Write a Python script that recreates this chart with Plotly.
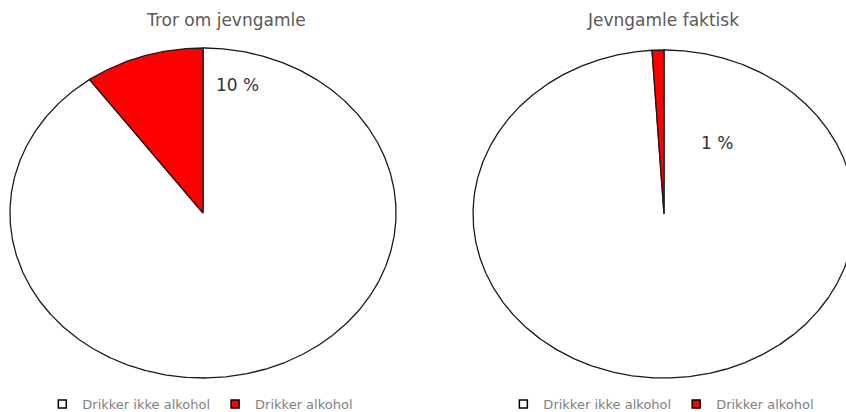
import numpy as np
import plotly.graph_objects as go

# ---- data ----
categories = ["Drikker ikke alkohol", "Drikker alkohol"]
titles = ["Tror om jevngamle", "Jevngamle faktisk"]
values_tror = [90, 10]
values_faktisk = [99, 1]
label_texts = ["10 %", "1 %"]

colors = ["#FFFFFF", "#FF0000"]
W, H = 846, 412
FONT = "'DejaVu Sans', sans-serif"

fig = go.Figure()


def wedges(values, xaxis, yaxis, legend):
    total = float(sum(values))
    start = 0.0
    for cat, v, col in zip(categories, values, colors):
        frac = v / total
        theta = np.linspace(start, start + frac, max(int(frac * 720), 4)) * 2 * np.pi
        xs = np.concatenate([[0.0], np.sin(theta), [0.0]])
        ys = np.concatenate([[0.0], np.cos(theta), [0.0]])
        fig.add_trace(go.Scatter(
            x=xs, y=ys, mode="lines", fill="toself", fillcolor=col,
            line=dict(color="#1a1a1a", width=1.3), xaxis=xaxis, yaxis=yaxis,
            showlegend=False, hoverinfo="skip", name=cat))
        start += frac
    for cat, col in zip(categories, colors):
        fig.add_trace(go.Scatter(
            x=[None], y=[None], mode="markers", name=cat, legend=legend,
            marker=dict(symbol="square", size=8, color=col,
                        line=dict(color="#000000", width=1.5)),
            xaxis=xaxis, yaxis=yaxis))


wedges(values_tror, "x", "y", "legend")
wedges(values_faktisk, "x2", "y2", "legend2")

ax_common = dict(visible=False, showgrid=False, zeroline=False, fixedrange=True)
leg_common = dict(orientation="h", xanchor="left", yanchor="middle", y=0.019,
                  font=dict(size=13, color="#7f7f7f", family=FONT), itemwidth=30,
                  bgcolor="rgba(0,0,0,0)", tracegroupgap=0)
fig.update_layout(
    width=W, height=H,
    margin=dict(l=0, r=0, t=0, b=0, autoexpand=False),
    paper_bgcolor="white", plot_bgcolor="rgba(0,0,0,0)",
    font=dict(family=FONT, color="#595959"),
    xaxis=dict(domain=[0.0072, 0.4727], range=[-1.02, 1.02], **ax_common),
    yaxis=dict(domain=[0.0745, 0.8915], range=[-1.02, 1.02], **ax_common),
    xaxis2=dict(domain=[0.5546, 1.0], range=[-1.02, 0.9529], **ax_common),
    yaxis2=dict(domain=[0.0745, 0.8866], range=[-1.02, 1.02], **ax_common),
    legend=dict(x=0.05, **leg_common),
    legend2=dict(x=0.595, **leg_common),
)

# titles
fig.add_annotation(text=titles[0], x=0.267, y=1 - 20 / H, xref="paper", yref="paper",
                   xanchor="center", yanchor="middle", showarrow=False,
                   font=dict(size=17, color="#595959"))
fig.add_annotation(text=titles[1], x=0.784, y=1 - 20 / H, xref="paper", yref="paper",
                   xanchor="center", yanchor="middle", showarrow=False,
                   font=dict(size=17, color="#595959"))

# data labels
fig.add_annotation(text=label_texts[0], x=0.18, y=0.776, xref="x", yref="y",
                   showarrow=False, font=dict(size=17, color="#333333"))
fig.add_annotation(text=label_texts[1], x=0.277, y=0.433, xref="x2", yref="y2",
                   showarrow=False, font=dict(size=17, color="#333333"))

fig.write_html("out.html", config={"displayModeBar": False},
               post_script="document.body.style.margin='0';")
